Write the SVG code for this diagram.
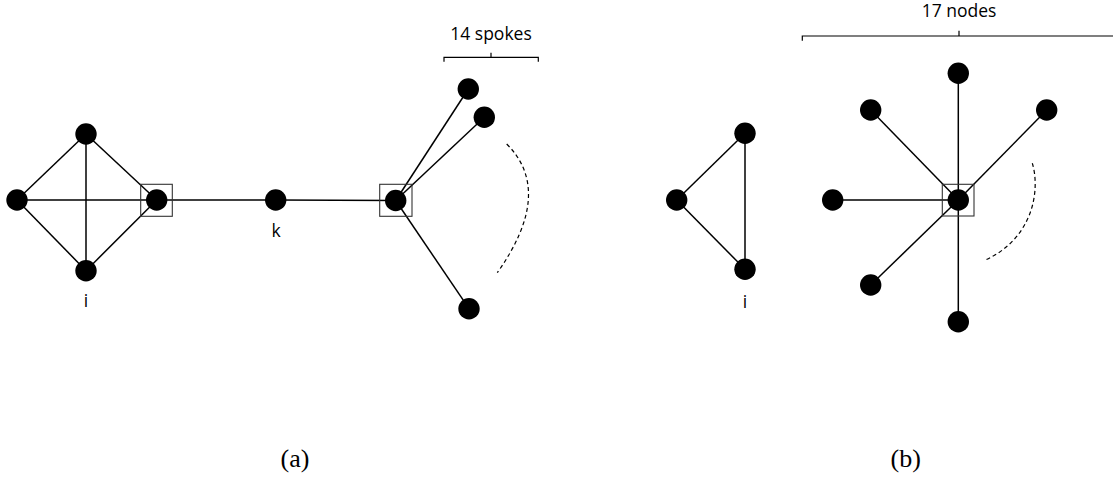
<svg xmlns="http://www.w3.org/2000/svg" width="1113" height="477" viewBox="0 0 1113 477">
<style>
.n{fill:#000}
.e{stroke:#000;stroke-width:1.5;fill:none}
.box{fill:none;stroke:#333;stroke-width:1.1}
.br{stroke:#000;stroke-width:1.2;fill:none}
.d{stroke:#000;stroke-width:1.2;fill:none;stroke-dasharray:4 3}
.t{font-family:"Open Sans",sans-serif;fill:#000;text-anchor:middle}
.cap{font-family:"Liberation Serif",serif;font-size:26px;fill:#000;text-anchor:middle}
</style>
<rect width="1113" height="477" fill="#fff"/>
<g id="connectors">
<line class="e" x1="17" y1="200" x2="86" y2="134"/>
<line class="e" x1="17" y1="200" x2="86" y2="270.7"/>
<line class="e" x1="17" y1="200" x2="156.7" y2="200"/>
<line class="e" x1="86" y1="134" x2="86" y2="270.7"/>
<line class="e" x1="86" y1="134" x2="156.7" y2="200"/>
<line class="e" x1="86" y1="270.7" x2="156.7" y2="200"/>
<line class="e" x1="156.7" y1="200" x2="275.7" y2="200"/>
<line class="e" x1="275.7" y1="200" x2="395.7" y2="200.5"/>
<line class="e" x1="395.7" y1="200.5" x2="468.3" y2="89"/>
<line class="e" x1="395.7" y1="200.5" x2="484.3" y2="117.3"/>
<line class="e" x1="395.7" y1="200.5" x2="469" y2="308.7"/>
<line class="e" x1="676.7" y1="200" x2="745" y2="133.3"/>
<line class="e" x1="676.7" y1="200" x2="745" y2="269.3"/>
<line class="e" x1="745" y1="133.3" x2="745" y2="269.3"/>
<line class="e" x1="958.3" y1="200" x2="958.3" y2="73.3"/>
<line class="e" x1="958.3" y1="200" x2="870.7" y2="110"/>
<line class="e" x1="958.3" y1="200" x2="1046.7" y2="110"/>
<line class="e" x1="958.3" y1="200" x2="832.7" y2="200"/>
<line class="e" x1="958.3" y1="200" x2="870.7" y2="285"/>
<line class="e" x1="958.3" y1="200" x2="958.3" y2="321.7"/>
</g>
<g id="node-a-left"><circle class="n" cx="17" cy="200" r="10.7"/></g>
<g id="node-a-top"><circle class="n" cx="86" cy="134" r="10.7"/></g>
<g id="node-a-i"><circle class="n" cx="86" cy="270.7" r="10.7"/><text class="t" x="86" y="307" font-size="17.5">i</text></g>
<g id="node-a-cut1"><circle class="n" cx="156.7" cy="200" r="10.7"/><rect class="box" x="140.7" y="184.3" width="31.6" height="32"/></g>
<g id="node-a-k"><circle class="n" cx="275.7" cy="200" r="10.7"/><text class="t" x="276" y="237" font-size="17.5">k</text></g>
<g id="node-a-hub"><circle class="n" cx="395.7" cy="200.5" r="10.7"/><rect class="box" x="379.7" y="184.3" width="32.3" height="32"/></g>
<g id="node-a-s1"><circle class="n" cx="468.3" cy="89" r="10.7"/></g>
<g id="node-a-s2"><circle class="n" cx="484.3" cy="117.3" r="10.7"/></g>
<g id="node-a-s3"><circle class="n" cx="469" cy="308.7" r="10.7"/></g>
<g id="spokes-a">
<path class="d" d="M506.7,144 Q554.6,191.6 497.3,272.7"/>
<path class="br" d="M444,61.7 V57.3 H538.3 V61.7 M491,57.3 V52.7"/>
<text class="t" x="491" y="40" font-size="17.5">14 spokes</text>
</g>
<g id="node-b-left"><circle class="n" cx="676.7" cy="200" r="10.7"/></g>
<g id="node-b-top"><circle class="n" cx="745" cy="133.3" r="10.7"/></g>
<g id="node-b-i"><circle class="n" cx="745" cy="269.3" r="10.7"/><text class="t" x="745" y="308" font-size="17.5">i</text></g>
<g id="node-b-hub"><circle class="n" cx="958.3" cy="200" r="10.7"/><rect class="box" x="942.3" y="184.3" width="31.7" height="31.7"/></g>
<g id="node-b-1"><circle class="n" cx="958.3" cy="73.3" r="10.7"/></g>
<g id="node-b-2"><circle class="n" cx="870.7" cy="110" r="10.7"/></g>
<g id="node-b-3"><circle class="n" cx="1046.7" cy="110" r="10.7"/></g>
<g id="node-b-4"><circle class="n" cx="832.7" cy="200" r="10.7"/></g>
<g id="node-b-5"><circle class="n" cx="870.7" cy="285" r="10.7"/></g>
<g id="node-b-6"><circle class="n" cx="958.3" cy="321.7" r="10.7"/></g>
<g id="spokes-b">
<path class="d" d="M1032.3,163.3 C1040,188 1035,238 984,260.7"/>
<path class="br" d="M802.3,40.7 V36 H1113 M959,36 V30.7"/>
<text class="t" x="959" y="17" font-size="17.5">17 nodes</text>
</g>
<text class="cap" x="295" y="466.5">(a)</text>
<text class="cap" x="905.7" y="466.5">(b)</text>
</svg>
